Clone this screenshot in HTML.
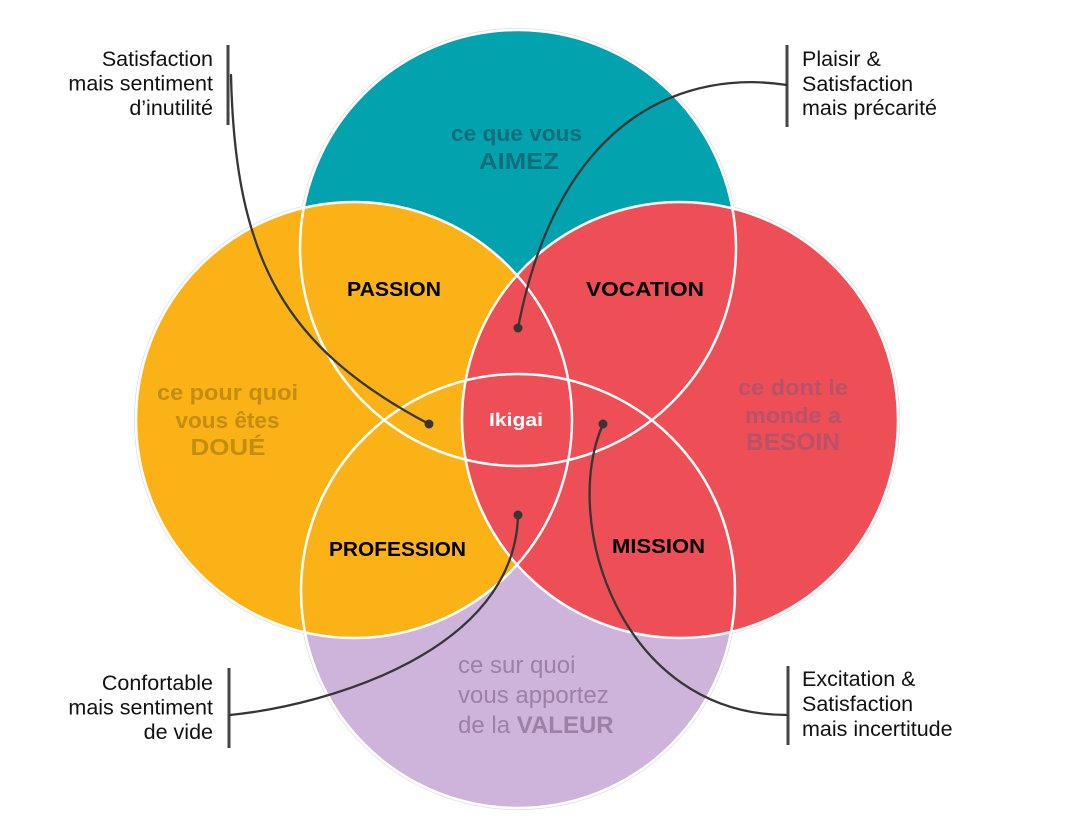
<!DOCTYPE html>
<html>
<head>
<meta charset="utf-8">
<style>
  html, body { margin: 0; padding: 0; background: #fff; }
  body { width: 1077px; height: 823px; overflow: hidden; }
  svg { display: block; }
  .lab { font-family: "Liberation Sans", "DejaVu Sans", sans-serif; }
</style>
</head>
<body>
<svg width="1077" height="823" viewBox="0 0 1077 823" xmlns="http://www.w3.org/2000/svg">
  <rect width="1077" height="823" fill="#ffffff"/>

  <!-- faint outer edges -->
  <g fill="none" stroke="#dcdcdc" stroke-width="0.8">
    <circle cx="518" cy="248" r="219.6"/>
    <circle cx="518" cy="591" r="218.6"/>
    <circle cx="354" cy="420" r="219.6"/>
    <circle cx="680" cy="420" r="219.6"/>
  </g>

  <!-- fills -->
  <circle cx="518" cy="248" r="218" fill="#02A2AE"/>
  <circle cx="518" cy="591" r="217" fill="#CEB3DB"/>
  <circle cx="354" cy="420" r="218" fill="#FAB217"/>
  <circle cx="680" cy="420" r="218" fill="#EE4E55"/>

  <!-- white outlines -->
  <g fill="none" stroke="#ffffff" stroke-width="2.5">
    <circle cx="518" cy="248" r="218"/>
    <circle cx="518" cy="591" r="217"/>
    <circle cx="354" cy="420" r="218"/>
    <circle cx="680" cy="420" r="218"/>
  </g>

  <!-- circle captions -->
  <g class="lab" font-weight="bold" text-anchor="middle">
    <text x="516.5" y="141" font-size="22" fill="#0F6E79" textLength="131" lengthAdjust="spacingAndGlyphs">ce que vous</text>
    <text x="519" y="169" font-size="23" fill="#0F6E79" textLength="80" lengthAdjust="spacingAndGlyphs">AIMEZ</text>

    <text x="227.5" y="400" font-size="22" fill="#C38D12" textLength="141" lengthAdjust="spacingAndGlyphs">ce pour quoi</text>
    <text x="227.5" y="428" font-size="22" fill="#C38D12" textLength="104" lengthAdjust="spacingAndGlyphs">vous êtes</text>
    <text x="228" y="455" font-size="23" fill="#C38D12" textLength="75" lengthAdjust="spacingAndGlyphs">DOUÉ</text>

    <text x="793" y="395" font-size="22" fill="#B6526A" textLength="110" lengthAdjust="spacingAndGlyphs">ce dont le</text>
    <text x="793" y="423" font-size="22" fill="#B6526A" textLength="96" lengthAdjust="spacingAndGlyphs">monde a</text>
    <text x="793" y="450" font-size="24" fill="#B6526A" textLength="94" lengthAdjust="spacingAndGlyphs">BESOIN</text>
  </g>

  <g class="lab" font-size="24" fill="#9C80A6">
    <text x="458" y="673">ce sur quoi</text>
    <text x="458" y="703">vous apportez</text>
    <text x="458" y="733">de la <tspan font-weight="bold">VALEUR</tspan></text>
  </g>

  <!-- intersection labels -->
  <g class="lab" font-weight="bold" text-anchor="middle" font-size="20" fill="#000">
    <text x="394" y="296" textLength="94" lengthAdjust="spacingAndGlyphs">PASSION</text>
    <text x="645" y="296" textLength="118" lengthAdjust="spacingAndGlyphs">VOCATION</text>
    <text x="397.5" y="556" textLength="137" lengthAdjust="spacingAndGlyphs">PROFESSION</text>
    <text x="658.5" y="553" textLength="93" lengthAdjust="spacingAndGlyphs">MISSION</text>
    <text x="516" y="426" font-size="18" fill="#ffffff" textLength="54" lengthAdjust="spacingAndGlyphs">Ikigai</text>
  </g>

  <!-- callout bars -->
  <g stroke="#454545" stroke-width="3" fill="none">
    <line x1="228" y1="45" x2="228" y2="125"/>
    <line x1="787" y1="45" x2="787" y2="127"/>
    <line x1="229" y1="668" x2="229" y2="748"/>
    <line x1="788" y1="666" x2="788" y2="745"/>
  </g>

  <!-- connectors -->
  <g stroke="#363636" stroke-width="2.3" fill="none" stroke-linecap="round">
    <path d="M 231 75 C 235 260, 285 348, 429 424"/>
    <path d="M 787 85 C 690 70, 560 110, 518 328"/>
    <path d="M 230 715 C 330 705, 515 650, 518 515"/>
    <path d="M 787 715 C 620 715, 560 520, 603 424"/>
  </g>
  <g fill="#363636">
    <circle cx="429" cy="424" r="4.5"/>
    <circle cx="518" cy="328" r="4.5"/>
    <circle cx="518" cy="515" r="4.5"/>
    <circle cx="603" cy="424" r="4.5"/>
  </g>

  <!-- callout texts -->
  <g class="lab" font-size="21.5" fill="#111111">
    <g text-anchor="end">
      <text x="213" y="66">Satisfaction</text>
      <text x="213" y="90.5">mais sentiment</text>
      <text x="213" y="115">d’inutilité</text>

      <text x="213" y="690">Confortable</text>
      <text x="213" y="714.5">mais sentiment</text>
      <text x="213" y="739">de vide</text>
    </g>
    <text x="802" y="66">Plaisir &amp;</text>
    <text x="802" y="91">Satisfaction</text>
    <text x="802" y="115">mais précarité</text>

    <text x="802" y="686">Excitation &amp;</text>
    <text x="802" y="711">Satisfaction</text>
    <text x="802" y="736">mais incertitude</text>
  </g>
</svg>
</body>
</html>
